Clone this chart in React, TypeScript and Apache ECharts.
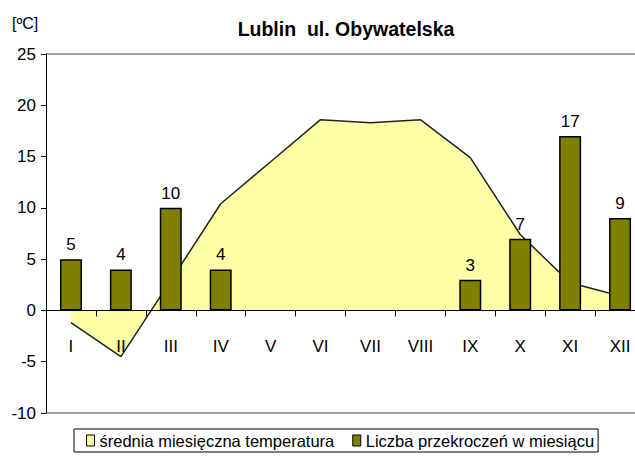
import React, { useEffect, useRef } from "react";
import * as echarts from "echarts";

const months = ["I", "II", "III", "IV", "V", "VI", "VII", "VIII", "IX", "X", "XI", "XII"];
const avgTemp = [-1.2, -4.5, 2.9, 10.4, 14.5, 18.6, 18.3, 18.6, 14.9, 7.4, 2.7, 1.4];
const exceedances = [5, 4, 10, 4, 0, 0, 0, 0, 3, 7, 17, 9];
const titleText = "Lublin  ul. Obywatelska";
const unitText = "[ºC]";
const tempName = "średnia miesięczna temperatura";
const countName = "Liczba przekroczeń w miesiącu";

const FONT = "'Liberation Sans', Arial, sans-serif";

export default function App() {
  const ref = useRef<HTMLDivElement>(null);
  useEffect(() => {
    if (!ref.current) return;
    const chart = echarts.init(ref.current, null, { renderer: "svg" });
    chart.setOption({
      animation: false,
      backgroundColor: "#fff",
      textStyle: { fontFamily: FONT },
      title: {
        text: titleText,
        left: 341,
        textAlign: "center",
        top: 14,
        textStyle: { fontSize: 19.5, fontWeight: "bold", color: "#000", fontFamily: FONT },
      },
      graphic: [
        {
          type: "text",
          left: 12,
          top: 15,
          style: { text: unitText, fontSize: 16, fill: "#000", fontFamily: FONT },
        },
      ],
      legend: {
        left: 74,
        top: 429,
        itemGap: 18,
        itemWidth: 8,
        itemHeight: 11,
        borderColor: "#000",
        borderWidth: 1,
        padding: [3, 4, 3, 12],
        textStyle: { fontSize: 16.5, color: "#000", fontFamily: FONT },
        data: [
          { name: tempName, icon: "rect", itemStyle: { color: "#FFFF99", borderColor: "#000", borderWidth: 1 } },
          { name: countName, icon: "rect", itemStyle: { color: "#808000", borderColor: "#000", borderWidth: 1 } },
        ],
      },
      grid: { left: 46, right: -10, top: 54, bottom: 43, containLabel: false, outerBoundsMode: "none" },
      xAxis: {
        type: "category",
        data: months,
        boundaryGap: true,
        z: 5,
        axisLine: { onZero: true, lineStyle: { color: "#000", width: 1 } },
        axisTick: { show: true, length: 6, lineStyle: { color: "#000" } },
        axisLabel: { margin: -75, fontSize: 17, color: "#000", fontFamily: FONT, interval: 0 },
      },
      yAxis: {
        type: "value",
        min: -10,
        max: 25,
        interval: 5,
        axisLine: { show: true, lineStyle: { color: "#000", width: 1 } },
        axisTick: { show: true, length: 5, lineStyle: { color: "#000" } },
        axisLabel: { fontSize: 17, color: "#000", margin: 10, fontFamily: FONT },
        splitLine: {
          show: true,
          lineStyle: {
            color: ["#808080", "transparent", "transparent", "transparent", "transparent", "transparent", "transparent", "#808080"],
            width: 1.5,
          },
        },
      },
      series: [
        {
          name: tempName,
          type: "line",
          data: avgTemp,
          showSymbol: false,
          symbol: "none",
          lineStyle: { color: "#222", width: 1.5 },
          itemStyle: { color: "#FFFF99" },
          areaStyle: { color: "#FFFFA8", opacity: 1, origin: 0 },
          z: 1,
        },
        {
          name: countName,
          type: "bar",
          data: exceedances.map((v) => (v === 0 ? null : v)),
          barWidth: 22,
          itemStyle: { color: "#808000", borderColor: "#000", borderWidth: 1.5 },
          label: { show: true, position: "top", distance: 6, fontSize: 17, color: "#000", fontFamily: FONT },
          z: 2,
        },
      ],
    });
    return () => chart.dispose();
  }, []);
  return <div ref={ref} style={{ width: 635, height: 456, position: "absolute", left: 0, top: 0 }} />;
}
